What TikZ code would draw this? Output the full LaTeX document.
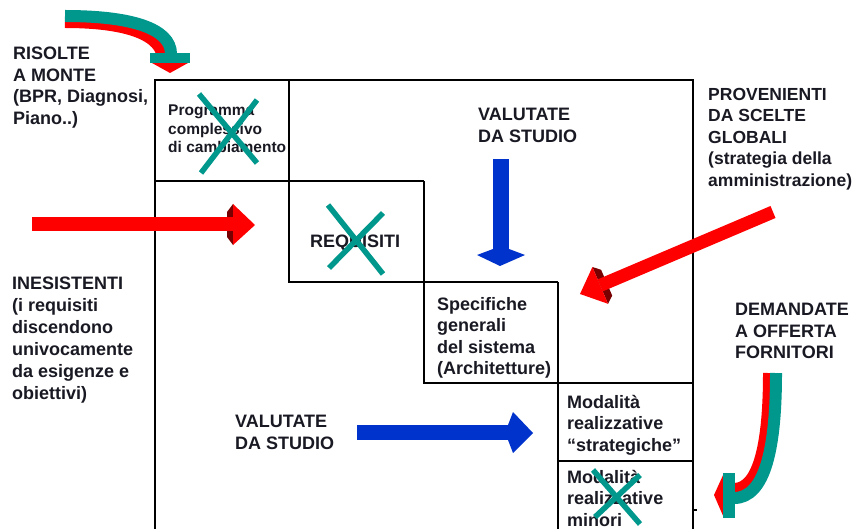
\documentclass[tikz,border=0pt]{standalone}
\usepackage{fontspec}
\setmainfont{Liberation Sans}
\definecolor{txt}{RGB}{25,25,35}
\definecolor{tealx}{RGB}{0,152,140}
\definecolor{redx}{RGB}{255,0,0}
\definecolor{darkredx}{RGB}{120,0,0}
\definecolor{bluex}{RGB}{0,51,204}
\begin{document}
\begin{tikzpicture}[x=1pt,y=-1pt,
  lbl/.style={anchor=north west, inner sep=0pt, align=left, text=txt,
    font=\bfseries\fontsize{18}{21.5}\selectfont},
  smalllbl/.style={lbl, font=\bfseries\fontsize{15.5}{18.5}\selectfont},
  gridline/.style={draw=black, line width=1.1pt},
  cross/.style={draw=tealx, line width=5.5pt},
  band/.style={line width=12pt},
]
\useasboundingbox (0,0) rectangle (858,529);

% staircase grid
\draw[gridline] (155,529) -- (155,80) -- (693,80) -- (693,529);
\draw[gridline] (155,181) -- (424,181);
\draw[gridline] (289,80) -- (289,282) -- (558,282);
\draw[gridline] (424,181) -- (424,383) -- (693,383);
\draw[gridline] (558,282) -- (558,529);
\draw[gridline] (558,461) -- (693,461);
\draw[gridline] (693,510) -- (697,510);

% texts
\node[lbl] (risolte) at (13,47) {RISOLTE\\A MONTE\\(BPR, Diagnosi,\\Piano..)};
\node[lbl, font=\bfseries\fontsize{18}{22}\selectfont] (inesistenti) at (12,277)
  {INESISTENTI\\(i requisiti\\discendono\\univocamente\\da esigenze e\\obiettivi)};
\node[smalllbl] (programma) at (168,105) {Programma\\complessivo\\di cambiamento};
\node[lbl] (requisiti) at (310,235) {REQUISITI};
\node[lbl] (valtop) at (478,108) {VALUTATE\\DA STUDIO};
\node[lbl] (specifiche) at (437,297) {Specifiche\\generali\\del sistema\\(Architetture)};
\node[lbl] (valbot) at (235,415) {VALUTATE\\DA STUDIO};
\node[lbl, font=\bfseries\fontsize{17.5}{21.5}\selectfont] (provenienti) at (708,88)
  {PROVENIENTI\\DA SCELTE\\GLOBALI\\(strategia della\\amministrazione)};
\node[lbl] (demandate) at (735,303) {DEMANDATE\\A OFFERTA\\FORNITORI};
\node[lbl] (strategiche) at (567,395) {Modalità\\realizzative\\“strategiche”};
\node[lbl] (minori) at (567,470) {Modalità\\realizzative\\minori};

% crossings-out
\draw[cross] (199,94) -- (257,163);
\draw[cross] (257,100) -- (201,173);
\draw[cross] (328,205) -- (383,274);
\draw[cross] (383,213) -- (329,268);
\draw[cross] (593,470) -- (640,524);
\draw[cross] (640,475) -- (595,517);

% curved arrow, top left
\draw[band, draw=redx] (65,22) .. controls (125,22) and (163,34) .. (163,60);
\draw[band, draw=tealx] (65,16) .. controls (130,16) and (171,28) .. (171,54);
\fill[redx] (152,63) -- (188,63) -- (170,73) -- cycle;
\fill[tealx] (150,53) rectangle (190,63);

% curved arrow, bottom right
\draw[band, draw=redx] (769,373) .. controls (769,440) and (760,489) .. (734,489);
\draw[band, draw=tealx] (776,373) .. controls (776,445) and (766,498) .. (734,498);
\fill[redx] (724,473) -- (724,518) -- (714,495) -- cycle;
\fill[tealx] (723,473) rectangle (735,518);

% red arrow, left
\fill[darkredx] (227,212) -- (233,204) -- (233,245) -- (227,237) -- cycle;
\fill[redx] (32,217) rectangle (234,231);
\fill[redx] (233,204) -- (255,225) -- (233,245) -- cycle;

% red arrow, diagonal
\fill[darkredx] (592.4,267.0) -- (608.0,303.8) -- (612.2,295.6) -- (601.1,269.8) -- cycle;
\fill[redx] (770.5,206.0) -- (775.5,218.0) -- (602.7,291.4) -- (597.7,279.4) -- cycle;
\fill[redx] (592.4,267.0) -- (580,294) -- (608.0,303.8) -- cycle;

% blue arrows
\fill[bluex] (493,159) rectangle (509,251);
\fill[bluex] (493,249) -- (477,255) -- (500,266) -- (525,255) -- (509,249) -- cycle;
\fill[bluex] (357,425) rectangle (509,440);
\fill[bluex] (508,425) -- (513,412) -- (533,433) -- (513,453) -- (508,440) -- cycle;
\end{tikzpicture}
\end{document}
